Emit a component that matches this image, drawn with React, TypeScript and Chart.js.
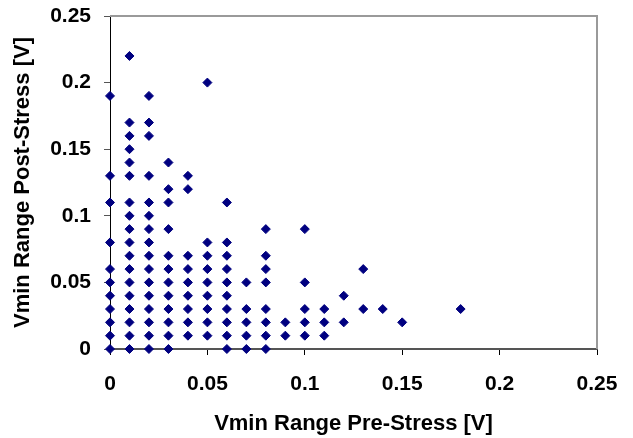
import React, { useEffect, useRef } from "react";
import { Chart, registerables } from "chart.js";

Chart.register(...registerables);

// Pre-stress Vmin range (x) columns and the post-stress values (y) found at each
const xColumns = [0, 0.01, 0.02, 0.03, 0.04, 0.05, 0.06, 0.07, 0.08, 0.09, 0.1, 0.11, 0.12, 0.13, 0.14, 0.15, 0.18];
const yAtColumn = [
  [0.19, 0.13, 0.11, 0.08, 0.06, 0.05, 0.04, 0.03, 0.02, 0.01, 0],
  [0.22, 0.17, 0.16, 0.15, 0.14, 0.13, 0.11, 0.1, 0.09, 0.08, 0.07, 0.06, 0.05, 0.04, 0.03, 0.02, 0.01, 0],
  [0.19, 0.17, 0.16, 0.13, 0.11, 0.1, 0.09, 0.08, 0.07, 0.06, 0.05, 0.04, 0.03, 0.02, 0.01, 0],
  [0.14, 0.12, 0.11, 0.09, 0.07, 0.06, 0.05, 0.04, 0.03, 0.02, 0.01, 0],
  [0.13, 0.12, 0.07, 0.06, 0.05, 0.04, 0.03, 0.02, 0.01],
  [0.2, 0.08, 0.07, 0.06, 0.05, 0.04, 0.03, 0.02, 0.01],
  [0.11, 0.08, 0.07, 0.06, 0.05, 0.04, 0.03, 0.02, 0.01, 0],
  [0.05, 0.03, 0.02, 0.01, 0],
  [0.09, 0.07, 0.06, 0.05, 0.03, 0.02, 0.01, 0],
  [0.02, 0.01],
  [0.09, 0.05, 0.03, 0.02, 0.01],
  [0.03, 0.02, 0.01],
  [0.04, 0.02],
  [0.06, 0.03],
  [0.03],
  [0.02],
  [0.03],
];

const xTickLabels = ["0", "0.05", "0.1", "0.15", "0.2", "0.25"];
const yTickLabels = ["0", "0.05", "0.1", "0.15", "0.2", "0.25"];
const xTitle = "Vmin Range Pre-Stress [V]";
const yTitle = "Vmin Range Post-Stress [V]";

const FONT = "'Liberation Sans', Arial, sans-serif";

const frameBorder = {
  id: "frameBorder",
  afterDatasetsDraw(chart: any) {
    const { ctx, chartArea } = chart;
    ctx.save();
    ctx.strokeStyle = "#9a9a9a";
    ctx.lineWidth = 2;
    ctx.beginPath();
    ctx.moveTo(chartArea.left, chartArea.top);
    ctx.lineTo(chartArea.right, chartArea.top);
    ctx.lineTo(chartArea.right, chartArea.bottom);
    ctx.stroke();
    ctx.restore();
  },
};

export default function App() {
  const ref = useRef<HTMLCanvasElement>(null);

  useEffect(() => {
    if (!ref.current) return;
    const points: { x: number; y: number }[] = [];
    xColumns.forEach((x, i) => {
      yAtColumn[i].forEach((y) => points.push({ x, y }));
    });

    const chart = new Chart(ref.current, {
      type: "scatter",
      data: {
        datasets: [
          {
            data: points,
            pointStyle: "rectRot",
            pointRadius: 4.5,
            pointBorderWidth: 1,
            backgroundColor: "#000080",
            borderColor: "#000080",
            clip: false,
          } as any,
        ],
      },
      plugins: [frameBorder],
      options: {
        responsive: false,
        animation: false,
        layout: { padding: { top: 16, right: 36, left: 0, bottom: 0 } },
        plugins: {
          legend: { display: false },
          tooltip: { enabled: false },
        },
        scales: {
          x: {
            type: "linear",
            min: 0,
            max: 0.25,
            afterFit: (s: any) => {
              s.height = 89;
              s.paddingLeft = 0;
              s.paddingRight = 0;
            },
            ticks: {
              stepSize: 0.05,
              padding: 17,
              color: "#000",
              font: { family: FONT, size: 21, weight: "bold" },
              callback: (_v: any, i: number) => xTickLabels[i],
            },
            grid: {
              drawOnChartArea: false,
              drawTicks: true,
              tickLength: 6,
              tickColor: "#000",
            },
            border: { display: true, color: "#555", width: 2 },
            title: {
              display: true,
              text: xTitle,
              color: "#000",
              font: { family: FONT, size: 22, weight: "bold" },
              padding: { top: 0, bottom: 1 },
            },
          },
          y: {
            type: "linear",
            min: 0,
            max: 0.25,
            afterFit: (s: any) => {
              s.width = 110;
              s.paddingTop = 0;
              s.paddingBottom = 0;
            },
            ticks: {
              stepSize: 0.05,
              padding: 13,
              color: "#000",
              font: { family: FONT, size: 21, weight: "bold" },
              callback: (_v: any, i: number) => yTickLabels[i],
            },
            grid: {
              drawOnChartArea: false,
              drawTicks: true,
              tickLength: 6,
              tickColor: "#555",
            },
            border: { display: true, color: "#000", width: 1 },
            title: {
              display: true,
              text: yTitle,
              color: "#000",
              font: { family: FONT, size: 22, weight: "bold" },
              padding: { top: 10, bottom: 0 },
            },
          },
        },
      } as any,
    });
    return () => chart.destroy();
  }, []);

  return (
    <div style={{ position: "fixed", left: 0, top: 0, width: 633, height: 438, background: "#fff" }}>
      <canvas ref={ref} width={633} height={438} style={{ width: 633, height: 438, display: "block" }} />
    </div>
  );
}
